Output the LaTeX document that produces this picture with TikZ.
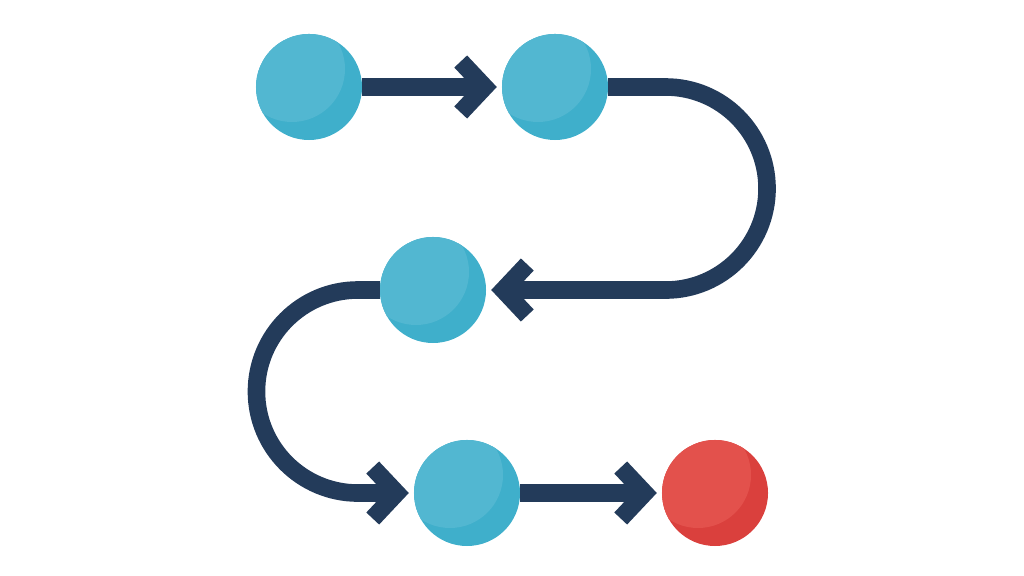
\documentclass[tikz,border=0pt]{standalone}
\usetikzlibrary{arrows.meta}
\definecolor{stepblue}{HTML}{3FAFCB}
\definecolor{stepbluelight}{HTML}{52B7D1}
\definecolor{stepred}{HTML}{DA403D}
\definecolor{stepredlight}{HTML}{E3514C}
\definecolor{pathnavy}{HTML}{233B5A}
\tikzset{
	stepdot/.style={circle, inner sep=0pt, outer sep=0pt, minimum size=2.65cm, fill=#1,
		path picture={\fill[#1light] ([xshift=-0.425cm, yshift=0.45cm]path picture bounding box.center) circle (1.325cm);}},
	link/.style={draw=pathnavy, line width=0.44cm, -{Straight Barb[sharp, length=0.6cm, width=1.275cm]}, shorten >=0.13cm}
}

\begin{document}
\begin{tikzpicture}[x=0.025cm, y=0.025cm]
			%%%%% START %%%%%
			
			\useasboundingbox (0, 0) rectangle (1024, 576);
			
			\node[stepdot=stepblue] (A) at (309, 489) {};
			\node[stepdot=stepblue] (B) at (555, 489) {};
			\node[stepdot=stepblue] (C) at (433, 286) {};
			\node[stepdot=stepblue] (D) at (467, 83) {};
			\node[stepdot=stepred] (E) at (715, 83) {};
			
			\draw[link] (A.east) -- (B.west);
			\draw[link] (B.east) -- ++(57.5, 0) arc[start angle=90, end angle=-90, radius=2.5375cm] -- (C.east);
			\draw[link] (C.west) -- ++(-22, 0) arc[start angle=90, end angle=270, radius=2.5375cm] -- (D.west);
			\draw[link] (D.east) -- (E.west);
			
			%%%%% END %%%%%
		\end{tikzpicture}
\end{document}
